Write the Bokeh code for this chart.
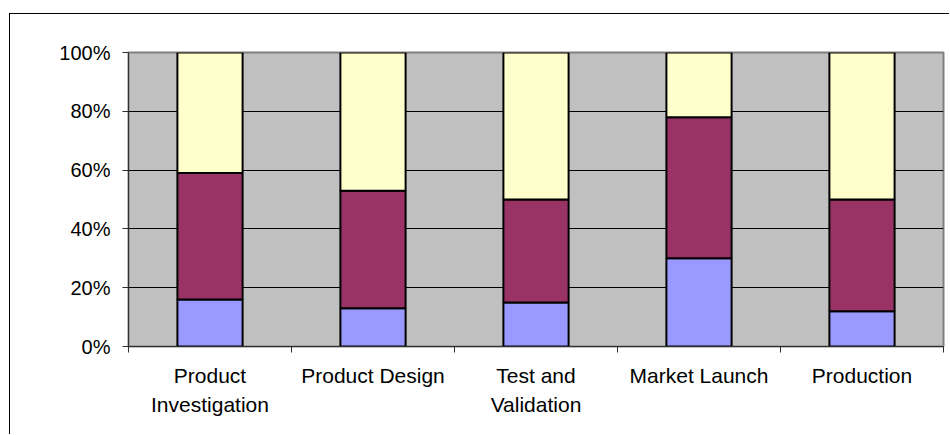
from bokeh.plotting import figure
from bokeh.models import ColumnDataSource, Range1d, FixedTicker, NumeralTickFormatter
from bokeh.embed import file_html
from bokeh.resources import INLINE

# Project phases and the share of effort in each of the three stacked parts
categories = ["Product Investigation", "Product Design", "Test and Validation",
              "Market Launch", "Production"]
tick_labels = ["Product\nInvestigation", "Product Design", "Test and\nValidation",
               "Market Launch", "Production"]
part_a = [16, 13, 15, 30, 12]
part_b = [43, 40, 35, 48, 38]
part_c = [41, 47, 50, 22, 50]

colors = ["#9999FF", "#993366", "#FFFFCC"]
FONT = "Liberation Sans"

# normalise each phase to 100 %
totals = [a + b + c for a, b, c in zip(part_a, part_b, part_c)]
centers = [i + 0.5 for i in range(len(categories))]
source = ColumnDataSource(dict(
    x=centers,
    a=[v / t for v, t in zip(part_a, totals)],
    b=[v / t for v, t in zip(part_b, totals)],
    c=[v / t for v, t in zip(part_c, totals)],
))

# the figure sits inside a chart-area border (left and top edges visible)
p = figure(width=940, height=421, output_backend="svg", toolbar_location=None,
           x_range=Range1d(0, len(categories)), y_range=Range1d(0, 1),
           min_border_left=118, min_border_right=7,
           min_border_top=38, min_border_bottom=89,
           margin=(13, 0, 0, 9),
           styles={"border-left": "1px solid black",
                   "border-top": "1px solid black",
                   "border-right": "none",
                   "border-bottom": "none"})
p.background_fill_color = "#C0C0C0"
p.border_fill_color = "white"
p.outline_line_color = "#808080"
p.outline_line_width = 2

p.vbar_stack(["a", "b", "c"], x="x", width=0.4, source=source,
             fill_color=colors, line_color="black", line_width=2)

# y axis: percentages
p.yaxis.ticker = FixedTicker(ticks=[0, 0.2, 0.4, 0.6, 0.8, 1.0])
p.yaxis.formatter = NumeralTickFormatter(format="0%")
p.yaxis.major_label_text_font = FONT
p.yaxis.major_label_text_font_size = "20px"
p.yaxis.major_label_text_color = "black"
p.yaxis.major_tick_out = 6
p.yaxis.major_tick_in = 0
p.yaxis.minor_tick_line_color = None
p.yaxis.major_label_standoff = 12
p.yaxis.axis_line_color = "#303030"
p.yaxis.major_tick_line_color = "#303030"

# x axis: labels at the bar centres, ticks at category boundaries
p.xaxis.ticker = FixedTicker(ticks=centers,
                             minor_ticks=list(range(len(categories) + 1)))
p.xaxis.major_label_overrides = {c: t for c, t in zip(centers, tick_labels)}
p.xaxis.major_tick_line_color = None
p.xaxis.major_tick_out = 0
p.xaxis.major_tick_in = 0
p.xaxis.minor_tick_out = 6
p.xaxis.minor_tick_in = 0
p.xaxis.minor_tick_line_color = "#303030"
p.xaxis.axis_line_color = "#303030"
p.xaxis.major_label_text_font = FONT
p.xaxis.major_label_text_font_size = "21px"
p.xaxis.major_label_text_color = "black"
p.xaxis.major_label_text_line_height = 1.3
p.xaxis.major_label_standoff = 11

p.xgrid.grid_line_color = None
p.ygrid.ticker = FixedTicker(ticks=[0.2, 0.4, 0.6, 0.8])
p.ygrid.grid_line_color = "black"
p.ygrid.grid_line_width = 1

open("out.html", "w").write(file_html(p, INLINE))
